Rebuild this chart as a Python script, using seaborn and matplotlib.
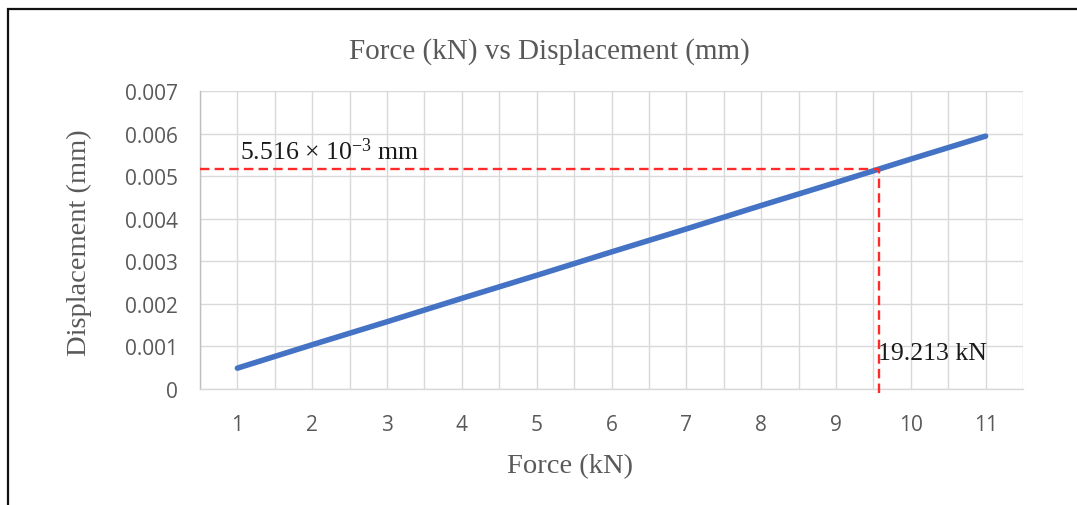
import numpy as np
import pandas as pd
import matplotlib
matplotlib.use("Agg")
import matplotlib.pyplot as plt
import seaborn as sns
from matplotlib.patches import Rectangle

# Data
force_kn = [1, 2, 3, 4, 5, 6, 7, 8, 9, 10, 11]
displacement_mm = [0.00049, 0.00104, 0.00158, 0.00213, 0.00267, 0.00322,
                   0.00376, 0.00431, 0.00485, 0.00540, 0.00594]
y_ticks = [0, 0.001, 0.002, 0.003, 0.004, 0.005, 0.006, 0.007]
y_tick_labels = ["0", "0.001", "0.002", "0.003", "0.004", "0.005", "0.006", "0.007"]
marker_force = 9.58
marker_disp = 0.00517
disp_note = "5.516 × 10$^{-3}$ mm"
force_note = "19.213 kN"

sns.set_theme(style="white")
plt.rcParams["font.family"] = ["Liberation Serif", "DejaVu Serif"]
plt.rcParams["mathtext.fontset"] = "custom"
plt.rcParams["mathtext.rm"] = "Liberation Serif"
plt.rcParams["mathtext.it"] = "Liberation Serif"
plt.rcParams["mathtext.default"] = "regular"

GREY = "#595959"
GRID = "#d9d9d9"

fig = plt.figure(figsize=(10.77, 5.06), dpi=100)
ax = fig.add_axes([200 / 1077, 1 - 390 / 506, 823 / 1077, 298 / 506])

df = pd.DataFrame({"Force (kN)": force_kn, "Displacement (mm)": displacement_mm})
sns.lineplot(data=df, x="Force (kN)", y="Displacement (mm)", ax=ax,
             color="#4472C4", linewidth=4.0, solid_capstyle="round", zorder=4)

# Axes ranges and grid
ax.set_xlim(0.5, 11.5)
ax.set_ylim(0, 0.007)
ax.set_xticks(force_kn)
ax.set_xticklabels([str(f) for f in force_kn])
ax.set_xticks(np.arange(0.5, 12.0, 1.0), minor=True)
ax.set_yticks(y_ticks)
ax.set_yticklabels(y_tick_labels)
ax.grid(True, which="both", axis="x", color=GRID, linewidth=1.0, zorder=0)
ax.grid(True, which="major", axis="y", color=GRID, linewidth=1.0, zorder=0)
ax.set_axisbelow(True)

for s in ["top", "right"]:
    ax.spines[s].set_visible(False)
ax.spines["bottom"].set_color(GRID)
ax.spines["bottom"].set_linewidth(1.0)
ax.spines["left"].set_color("#bfbfbf")
ax.spines["left"].set_linewidth(1.0)

ax.tick_params(axis="x", which="both", length=0, pad=18, labelcolor=GREY)
ax.tick_params(axis="y", which="major", length=5, width=1, color="#bfbfbf",
               direction="out", pad=11, labelcolor=GREY)
for lab in ax.get_xticklabels() + ax.get_yticklabels():
    lab.set_fontfamily("Open Sans")
    lab.set_fontsize(15)

# Axis titles
ax.set_xlabel("Force (kN)", fontsize=20.5, color=GREY)
ax.set_ylabel("Displacement (mm)", fontsize=20.5, color=GREY)
ax.xaxis.set_label_coords((570 - 200) / 823, (390 - 467) / 298)
ax.xaxis.label.set_va("center")
ax.yaxis.set_label_coords((79 - 200) / 823, (390 - 243) / 298)
ax.yaxis.label.set_va("center")

# Reference lines
red = "#ff2a2a"
ax.plot([0.5, marker_force], [marker_disp, marker_disp], color=red,
        linewidth=1.7, dashes=(4.0, 2.2), zorder=5)
ax.plot([marker_force, marker_force], [-0.0001, marker_disp], color=red,
        linewidth=1.7, dashes=(4.0, 2.2), zorder=5, clip_on=False)
ax.text(1.03, marker_disp + 0.00011, disp_note, fontsize=18.5,
        color="#1a1a1a", ha="left", va="bottom", zorder=6)
ax.text(marker_force - 0.02, 0.00085, force_note, fontsize=18.5,
        color="#1a1a1a", ha="left", va="center", zorder=6)

# Title
fig.text(549 / 1077, 1 - 52 / 506, "Force (kN) vs Displacement (mm)",
         fontsize=21, color=GREY, ha="center", va="center")

# Chart border
fig.patches.append(Rectangle((8 / 1077, -0.05), 1.2, 1 - 10 / 506 + 0.05,
                             transform=fig.transFigure, fill=False,
                             edgecolor="#111111", linewidth=1.6))

fig.savefig("out.png", dpi=100)
